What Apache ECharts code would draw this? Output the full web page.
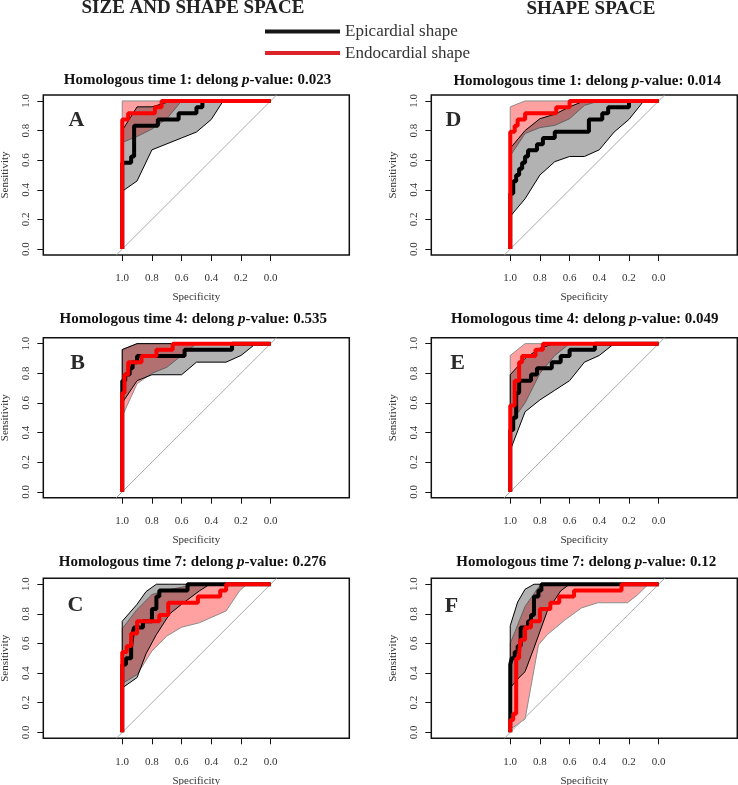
<!DOCTYPE html>
<html><head><meta charset="utf-8">
<script src="https://cdn.jsdelivr.net/npm/echarts@6/dist/echarts.min.js"></script>
<style>html,body{margin:0;padding:0;background:#fff}#c{width:738px;height:785px}</style>
</head><body><div id="c"></div>
<script>
// ---------- DATA ----------
const seriesNames = ['Epicardial shape', 'Endocardial shape'];
const columnHeaders = ['SIZE AND SHAPE SPACE', 'SHAPE SPACE'];
const panelLetters = ['A', 'B', 'C', 'D', 'E', 'F'];
const panelTimes = [1, 4, 7, 1, 4, 7];
const delongP = ['0.023', '0.535', '0.276', '0.014', '0.049', '0.12'];
const tickValues = [0, 0.2, 0.4, 0.6, 0.8, 1.0];
const chanceLine = [[1.04, -0.04], [-0.04, 1.04]];

// Panel A
const rocA_epi = [[1,0],[1,0.583],[0.94,0.583],[0.94,0.625],[0.92,0.625],[0.92,0.833],[0.76,0.833],[0.76,0.875],[0.62,0.875],[0.62,0.917],[0.5,0.917],[0.5,0.958],[0.46,0.958],[0.46,1],[0,1]];
const rocA_endo = [[1,0],[1,0.875],[0.96,0.875],[0.96,0.917],[0.78,0.917],[0.78,0.958],[0.735,0.958],[0.735,1],[0,1]];
const ciA_epi_spec = [1,0.9,0.8,0.7,0.6,0.5,0.4,0.32,0];
const ciA_epi_lo   = [0.39,0.46,0.67,0.71,0.75,0.79,0.875,1,1];
const ciA_epi_hi   = [0.8,0.96,0.96,0.99,1,1,1,1,1];
const ciA_endo_spec = [1,0.9,0.8,0.7,0.6,0];
const ciA_endo_lo   = [0.72,0.76,0.81,0.88,1,1];
const ciA_endo_hi   = [1,1,1,1,1,1];

// Panel B
const rocB_epi = [[1,0],[1,0.75],[0.98,0.75],[0.98,0.792],[0.95,0.792],[0.95,0.833],[0.93,0.833],[0.93,0.875],[0.9,0.875],[0.9,0.917],[0.58,0.917],[0.58,0.958],[0.26,0.958],[0.26,1],[0,1]];
const rocB_endo = [[1,0],[1,0.667],[0.985,0.667],[0.985,0.792],[0.96,0.792],[0.96,0.875],[0.87,0.875],[0.87,0.917],[0.77,0.917],[0.77,0.958],[0.66,0.958],[0.66,1],[0,1]];
const ciB_epi_spec = [1,0.9,0.8,0.6,0.5,0.3,0.2,0.1,0];
const ciB_epi_lo   = [0.6,0.75,0.79,0.79,0.875,0.875,0.92,1,1];
const ciB_epi_hi   = [0.96,1,1,1,1,1,1,1,1];
const ciB_endo_spec = [1,0.9,0.8,0.7,0.6,0.5,0];
const ciB_endo_lo   = [0.51,0.73,0.8,0.84,0.92,1,1];
const ciB_endo_hi   = [0.96,1,1,1,1,1,1];

// Panel C
const rocC_epi = [[1,0],[1,0.458],[0.975,0.458],[0.975,0.5],[0.94,0.5],[0.94,0.583],[0.93,0.583],[0.93,0.667],[0.92,0.667],[0.92,0.708],[0.86,0.708],[0.86,0.75],[0.8,0.75],[0.8,0.833],[0.77,0.833],[0.77,0.917],[0.75,0.917],[0.75,0.958],[0.56,0.958],[0.56,1],[0,1]];
const rocC_endo = [[1,0],[1,0.542],[0.97,0.542],[0.97,0.583],[0.94,0.583],[0.94,0.667],[0.9,0.667],[0.9,0.75],[0.75,0.75],[0.75,0.792],[0.69,0.792],[0.69,0.875],[0.49,0.875],[0.49,0.917],[0.34,0.917],[0.34,0.958],[0.3,0.958],[0.3,1],[0,1]];
const ciC_epi_spec = [1,0.9,0.84,0.77,0.68,0.6,0.48,0.41,0];
const ciC_epi_lo   = [0.3,0.37,0.53,0.66,0.8,0.865,0.955,1,1];
const ciC_epi_hi   = [0.75,0.865,0.95,1,1,1,1,1,1];
const ciC_endo_spec = [1,0.9,0.8,0.7,0.6,0.48,0.3,0.21,0.16,0];
const ciC_endo_lo   = [0.33,0.39,0.55,0.65,0.71,0.74,0.82,0.955,1,1];
const ciC_endo_hi   = [0.7,0.83,0.93,0.96,0.98,1,1,1,1,1];

// Panel D
const rocD_epi = [[1,0],[1,0.375],[0.98,0.375],[0.98,0.458],[0.96,0.458],[0.96,0.5],[0.94,0.5],[0.94,0.542],[0.92,0.542],[0.92,0.583],[0.9,0.583],[0.9,0.625],[0.88,0.625],[0.88,0.667],[0.82,0.667],[0.82,0.708],[0.78,0.708],[0.78,0.75],[0.7,0.75],[0.7,0.792],[0.47,0.792],[0.47,0.875],[0.38,0.875],[0.38,0.917],[0.34,0.917],[0.34,0.958],[0.2,0.958],[0.2,1],[0,1]];
const rocD_endo = [[1,0],[1,0.792],[0.97,0.792],[0.97,0.833],[0.95,0.833],[0.95,0.875],[0.9,0.875],[0.9,0.917],[0.69,0.917],[0.69,0.958],[0.6,0.958],[0.6,1],[0,1]];
const ciD_epi_spec = [1,0.9,0.8,0.7,0.6,0.5,0.4,0.3,0.2,0.1,0];
const ciD_epi_lo   = [0.22,0.34,0.5,0.59,0.625,0.625,0.67,0.79,0.875,1,1];
const ciD_epi_hi   = [0.68,0.8,0.88,0.91,0.96,1,1,1,1,1,1];
const ciD_endo_spec = [1,0.9,0.8,0.7,0.6,0.5,0.4,0];
const ciD_endo_lo   = [0.63,0.78,0.82,0.835,0.88,0.97,1,1];
const ciD_endo_hi   = [0.96,1,1,1,1,1,1,1];

// Panel E
const rocE_epi = [[1,0],[1,0.417],[0.98,0.417],[0.98,0.5],[0.96,0.5],[0.96,0.667],[0.94,0.667],[0.94,0.75],[0.86,0.75],[0.86,0.792],[0.82,0.792],[0.82,0.833],[0.72,0.833],[0.72,0.875],[0.66,0.875],[0.66,0.917],[0.6,0.917],[0.6,0.958],[0.43,0.958],[0.43,1],[0,1]];
const rocE_endo = [[1,0],[1,0.583],[0.97,0.583],[0.97,0.75],[0.94,0.75],[0.94,0.875],[0.92,0.875],[0.92,0.917],[0.83,0.917],[0.83,0.958],[0.78,0.958],[0.78,1],[0,1]];
const ciE_epi_spec = [1,0.9,0.8,0.7,0.6,0.5,0.4,0.3,0];
const ciE_epi_lo   = [0.28,0.54,0.62,0.685,0.75,0.875,0.92,1,1];
const ciE_epi_hi   = [0.79,0.9,0.97,1,1,1,1,1,1];
const ciE_endo_spec = [1,0.9,0.8,0.7,0.6,0];
const ciE_endo_lo   = [0.46,0.6,0.8,0.92,1,1];
const ciE_endo_hi   = [0.92,1,1,1,1,1];

// Panel F
const rocF_epi = [[1,0],[1,0.458],[0.99,0.458],[0.99,0.5],[0.97,0.5],[0.97,0.542],[0.95,0.542],[0.95,0.583],[0.93,0.583],[0.93,0.708],[0.88,0.708],[0.88,0.75],[0.86,0.75],[0.86,0.792],[0.84,0.792],[0.84,0.917],[0.81,0.917],[0.81,0.958],[0.79,0.958],[0.79,1],[0,1]];
const rocF_endo = [[1,0],[1,0.083],[0.98,0.083],[0.98,0.125],[0.96,0.125],[0.96,0.5],[0.94,0.5],[0.94,0.542],[0.93,0.542],[0.93,0.625],[0.9,0.625],[0.9,0.708],[0.86,0.708],[0.86,0.75],[0.8,0.75],[0.8,0.833],[0.73,0.833],[0.73,0.875],[0.67,0.875],[0.67,0.917],[0.57,0.917],[0.57,0.958],[0.25,0.958],[0.25,1],[0,1]];
const ciF_epi_spec = [1,0.95,0.9,0.84,0.75,0.66,0.6,0];
const ciF_epi_lo   = [0.3,0.36,0.41,0.57,0.82,0.955,1,1];
const ciF_epi_hi   = [0.72,0.88,0.966,1,1,1,1,1];
const ciF_endo_spec = [1,0.9,0.81,0.75,0.63,0.52,0.41,0.21,0.14,0.07,0];
const ciF_endo_lo   = [0.02,0.09,0.59,0.66,0.76,0.84,0.875,0.875,0.93,1,1];
const ciF_endo_hi   = [0.6,0.85,0.98,1,1,1,1,1,1,1,1];

// ---------- ASSEMBLY ----------
const panelData = [
  {epi: rocA_epi, endo: rocA_endo, ciEpi: [ciA_epi_spec, ciA_epi_lo, ciA_epi_hi], ciEndo: [ciA_endo_spec, ciA_endo_lo, ciA_endo_hi]},
  {epi: rocB_epi, endo: rocB_endo, ciEpi: [ciB_epi_spec, ciB_epi_lo, ciB_epi_hi], ciEndo: [ciB_endo_spec, ciB_endo_lo, ciB_endo_hi]},
  {epi: rocC_epi, endo: rocC_endo, ciEpi: [ciC_epi_spec, ciC_epi_lo, ciC_epi_hi], ciEndo: [ciC_endo_spec, ciC_endo_lo, ciC_endo_hi]},
  {epi: rocD_epi, endo: rocD_endo, ciEpi: [ciD_epi_spec, ciD_epi_lo, ciD_epi_hi], ciEndo: [ciD_endo_spec, ciD_endo_lo, ciD_endo_hi]},
  {epi: rocE_epi, endo: rocE_endo, ciEpi: [ciE_epi_spec, ciE_epi_lo, ciE_epi_hi], ciEndo: [ciE_endo_spec, ciE_endo_lo, ciE_endo_hi]},
  {epi: rocF_epi, endo: rocF_endo, ciEpi: [ciF_epi_spec, ciF_epi_lo, ciF_epi_hi], ciEndo: [ciF_endo_spec, ciF_endo_lo, ciF_endo_hi]}
];

// layout (pixels)
const layout = [
  {left: 43.3,  top: 95,    titleX: 197.5, titleY: 80,    letterX: 76.5,  letterY: 120},
  {left: 43.3,  top: 337.7, titleX: 193.3, titleY: 319,   letterX: 77.5,  letterY: 363.5},
  {left: 43.3,  top: 578.3, titleX: 192.5, titleY: 562.3, letterX: 75.5,  letterY: 605},
  {left: 431.3, top: 95,    titleX: 587.2, titleY: 80.7,  letterX: 453.5, letterY: 120.5},
  {left: 431.3, top: 337.7, titleX: 584.7, titleY: 319,   letterX: 457.5, letterY: 363.5},
  {left: 431.3, top: 578.3, titleX: 586.3, titleY: 562.3, letterX: 451.5, letterY: 606.5}
];
const FONT = '"Liberation Serif", "Times New Roman", serif';
const BOX_W = 306, BOX_H = 160;

const grids = [], xAxes = [], yAxes = [], series = [], graphics = [];

function bandSeries(g, ci, fill, stroke) {
  const spec = ci[0], lo = ci[1], hi = ci[2];
  return {
    type: 'custom', xAxisIndex: g, yAxisIndex: g, silent: true,
    data: spec.map((s, i) => [s, lo[i], hi[i]]),
    renderItem: function (params, api) {
      if (params.dataIndex !== 0) return null;
      const pts = [];
      for (let i = 0; i < spec.length; i++) pts.push(api.coord([spec[i], hi[i]]));
      for (let i = spec.length - 1; i >= 0; i--) pts.push(api.coord([spec[i], lo[i]]));
      return {type: 'polygon', shape: {points: pts}, style: {fill: fill, stroke: stroke, lineWidth: 1}};
    }
  };
}

layout.forEach((L, g) => {
  grids.push({left: L.left, top: L.top, width: BOX_W, height: BOX_H, show: true,
    borderColor: '#111', borderWidth: 1.5, backgroundColor: 'transparent', containLabel: false, outerBoundsMode: 'none'});
  xAxes.push({type: 'value', gridIndex: g, inverse: true, min: -0.53, max: 1.532, position: 'bottom',
    axisLine: {show: false, onZero: false}, splitLine: {show: false},
    axisTick: {show: true, customValues: tickValues, length: 6, lineStyle: {color: '#111', width: 1}},
    axisLabel: {customValues: tickValues, formatter: v => v.toFixed(1), fontSize: 11, color: '#333', margin: 18, fontFamily: FONT},
    name: 'Specificity', nameLocation: 'middle', nameGap: 37,
    nameTextStyle: {fontSize: 11, color: '#333', fontFamily: FONT}});
  yAxes.push({type: 'value', gridIndex: g, min: -0.04, max: 1.04, position: 'left',
    axisLine: {show: false, onZero: false}, splitLine: {show: false},
    axisTick: {show: true, customValues: tickValues, length: 6, lineStyle: {color: '#111', width: 1}},
    axisLabel: {customValues: tickValues, formatter: v => v.toFixed(1), rotate: 90, fontSize: 11, color: '#333', margin: 12, fontFamily: FONT},
    name: 'Sensitivity', nameLocation: 'middle', nameGap: 33,
    nameTextStyle: {fontSize: 11, color: '#333', fontFamily: FONT}});

  const P = panelData[g];
  series.push({type: 'line', xAxisIndex: g, yAxisIndex: g, data: chanceLine, symbol: 'none', silent: true,
    lineStyle: {color: '#aaaaaa', width: 1}});
  series.push(bandSeries(g, P.ciEndo, 'rgba(255,0,0,0.37)', '#8c8c8c'));
  series.push(bandSeries(g, P.ciEpi, 'rgba(0,0,0,0.3)', '#000'));
  series.push({type: 'line', name: seriesNames[0], xAxisIndex: g, yAxisIndex: g, data: P.epi, symbol: 'none', showSymbol: false,
    silent: true, color: '#000', itemStyle: {color: '#000'}, lineStyle: {color: '#000', width: 4}});
  series.push({type: 'line', name: seriesNames[1], xAxisIndex: g, yAxisIndex: g, data: P.endo, symbol: 'none', showSymbol: false,
    silent: true, color: '#ff0000', itemStyle: {color: '#ff0000'}, lineStyle: {color: '#ff0000', width: 4}});

  graphics.push({type: 'text', x: L.titleX, y: L.titleY, silent: true, style: {
    text: '{b|Homologous time ' + panelTimes[g] + ': delong }{i|p}{b|-value: ' + delongP[g] + '}',
    textAlign: 'center', textVerticalAlign: 'middle',
    rich: {
      b: {font: 'bold 15px ' + FONT, fill: '#111'},
      i: {font: 'italic bold 15px ' + FONT, fill: '#111'}
    }}});
  graphics.push({type: 'text', x: L.letterX, y: L.letterY, silent: true, style: {
    text: panelLetters[g], font: 'bold 22px ' + FONT, fill: '#2a2a2a', textAlign: 'center', textVerticalAlign: 'middle'}});
});

graphics.push({type: 'text', x: 193, y: 7.7, silent: true, style: {text: columnHeaders[0], font: 'bold 19px ' + FONT, fill: '#222', textAlign: 'center', textVerticalAlign: 'middle'}});
graphics.push({type: 'text', x: 591, y: 8.7, silent: true, style: {text: columnHeaders[1], font: 'bold 19px ' + FONT, fill: '#222', textAlign: 'center', textVerticalAlign: 'middle'}});

const chart = echarts.init(document.getElementById('c'), null, {renderer: 'canvas'});
chart.setOption({
  animation: false,
  backgroundColor: '#fff',
  textStyle: {fontFamily: FONT},
  legend: {
    data: [
      {name: seriesNames[0], icon: 'rect', itemStyle: {color: '#161616'}},
      {name: seriesNames[1], icon: 'rect', itemStyle: {color: '#dd2228'}}
    ],
    orient: 'vertical', left: 265, top: 23, itemWidth: 75, itemHeight: 4, itemGap: 4.6,
    selectedMode: false, padding: 0,
    textStyle: {fontSize: 17, color: '#333', fontFamily: FONT}
  },
  grid: grids, xAxis: xAxes, yAxis: yAxes, series: series, graphic: graphics
});
</script></body></html>
